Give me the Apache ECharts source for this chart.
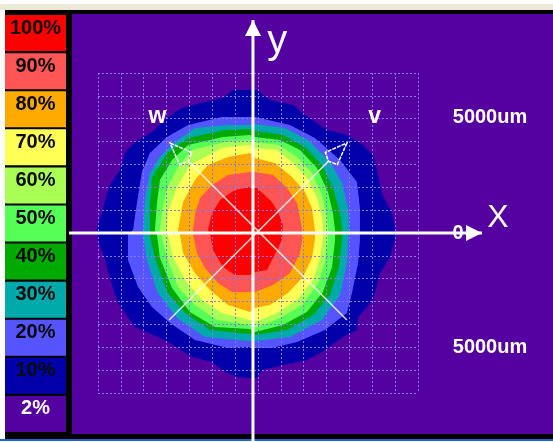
<!DOCTYPE html>
<html>
<head>
<meta charset="utf-8">
<style>
  html, body { margin: 0; padding: 0; background: #ffffff; }
  #chart { width: 553px; height: 442px; }
</style>
<script src="https://cdn.jsdelivr.net/npm/echarts@6/dist/echarts.min.js"></script>
</head>
<body>
<div id="chart"></div>
<script>
// legend scale, top to bottom
const legendLabels = ['100%', '90%', '80%', '70%', '60%', '50%', '40%', '30%', '20%', '10%', '2%'];
const legendColors = ['#ff0000', '#ff5555', '#ffaa00', '#ffff55', '#aaff55', '#55ff55', '#00aa00', '#00aaaa', '#5555ff', '#0000aa', '#5500a0'];

// contour outlines as [x, y] in um
const c100 = [[1090,350],[880,920],[610,1360],[-40,1970],[-350,2010],[-1010,1880],[-1660,1440],[-2010,880],[-2190,130],[-2100,-40],[-1970,-740],[-1530,-1490],[-1010,-1840],[-350,-1840],[-130,-1710],[390,-1620],[660,-1090],[1050,-310]];
const c90 = [[1930,130],[1840,660],[1710,1310],[1270,1970],[660,2540],[-130,2670],[-350,2670],[-1310,2540],[-2010,2100],[-2540,1530],[-2760,790],[-2840,130],[-2840,-90],[-2670,-880],[-2320,-1530],[-1750,-2190],[-1140,-2580],[-350,-2580],[-130,-2580],[660,-2280],[1400,-1750],[1840,-880],[1930,-310]];
const c80 = [[2490,130],[2360,1090],[2060,1790],[1490,2450],[740,3060],[-130,3280],[-350,3500],[-1310,3330],[-2190,2980],[-2760,2320],[-3280,1360],[-3500,130],[-3410,-90],[-3280,-880],[-2760,-1750],[-2100,-2490],[-1310,-3150],[-350,-3460],[-130,-3280],[530,-3150],[1310,-2630],[1970,-1930],[2360,-1090],[2490,-310]];
const c70 = [[2840,130],[2800,660],[2580,1530],[2140,2410],[1530,3060],[830,3630],[-130,3720],[-350,3850],[-1580,3720],[-2980,2980],[-3540,2010],[-3940,920],[-3980,130],[-3940,-90],[-3720,-1050],[-3190,-2060],[-2450,-2930],[-1580,-3500],[-350,-3810],[-130,-3890],[830,-3500],[1710,-2930],[2410,-2060],[2710,-1090],[2840,-310]];
const c60 = [[3060,130],[3020,700],[2800,1660],[2360,2630],[1710,3330],[880,3850],[-130,3980],[-350,4070],[-1440,3980],[-2890,3630],[-3500,2890],[-3980,1970],[-4200,920],[-4290,130],[-4240,-90],[-3980,-1090],[-3500,-2360],[-2760,-3150],[-1790,-3810],[-350,-4030],[-130,-4160],[960,-3720],[1930,-3150],[2630,-2190],[2930,-1270],[3060,-310]];
const c50 = [[3370,130],[3280,880],[3060,1790],[2580,2840],[1840,3630],[960,4070],[-130,4200],[-350,4290],[-1530,4200],[-3060,3850],[-3760,3190],[-4290,2320],[-4420,1310],[-4510,130],[-4420,-90],[-4290,-1090],[-3760,-2410],[-2980,-3460],[-1880,-4110],[-350,-4200],[-130,-4330],[1090,-4030],[2140,-3460],[2840,-2580],[3240,-1490],[3370,-310]];
const c40 = [[3680,130],[3590,880],[3280,1970],[2800,2980],[2060,3760],[1090,4290],[-130,4460],[-350,4550],[-1440,4510],[-3060,4160],[-3980,3500],[-4640,2410],[-4730,1230],[-4730,130],[-4730,-90],[-4510,-1090],[-3980,-2580],[-3190,-3500],[-2100,-4240],[-350,-4420],[-130,-4460],[1270,-4240],[2410,-3590],[3150,-2710],[3540,-1490],[3680,-310]];
const c30 = [[3980,130],[3940,1010],[3680,2190],[3150,3110],[2190,4070],[1180,4590],[-130,4770],[-350,4730],[-1310,4730],[-2760,4590],[-3630,3980],[-4290,3330],[-4730,2630],[-4940,1530],[-5030,130],[-5030,-90],[-4860,-1180],[-4380,-2630],[-3540,-3720],[-2320,-4550],[-350,-4730],[-130,-4730],[1400,-4550],[2800,-3810],[3590,-2710],[3890,-1310],[3940,-310]];
const c20 = [[4460,130],[4460,1090],[4330,2230],[3590,3190],[2490,4160],[1400,4730],[-130,5080],[-350,5080],[-1580,5080],[-3060,4730],[-3980,4200],[-4730,3500],[-5080,2670],[-5290,1360],[-5470,130],[-5690,-90],[-5690,-1180],[-5250,-2360],[-4640,-3240],[-3850,-3940],[-2760,-4680],[-1310,-5030],[-350,-4990],[-130,-5030],[610,-5030],[1710,-4770],[2930,-4240],[3890,-3500],[4110,-2630],[4380,-1310],[4460,-310]];
const c10 = [[5990,220],[5860,920],[5430,1660],[5250,2540],[5030,3410],[4590,3850],[3890,4290],[3020,4510],[2060,5160],[1530,5600],[530,5820],[-40,6260],[-350,6260],[-1090,6260],[-1530,5910],[-2320,5730],[-3330,5470],[-3980,5030],[-4640,4420],[-5380,3980],[-5820,3500],[-6040,2760],[-6480,2100],[-6690,1440],[-6830,880],[-7040,220],[-7000,-310],[-6690,-1180],[-6480,-1970],[-6130,-3060],[-5380,-4110],[-4380,-4550],[-3850,-4810],[-2890,-5430],[-2010,-5640],[-1440,-6080],[-880,-6300],[-350,-6340],[-40,-6340],[180,-5990],[1090,-5780],[2140,-5560],[2800,-5210],[3720,-4550],[4330,-4240],[4380,-3680],[5030,-2930],[5340,-1750],[5780,-1050],[5990,-310]];

// outermost first so the inner levels paint over it
const contours = [c10, c20, c30, c40, c50, c60, c70, c80, c90, c100];
const contourColors = ['#0000aa', '#5555ff', '#00aaaa', '#00aa00', '#55ff55', '#aaff55', '#ffff55', '#ffaa00', '#ff5555', '#ff0000'];

// measurement axes in um: [start, tip]
const xLine = [[-8270, 0], [9800, 0]];
const yLine = [[-220, -9140], [-220, 9320]];
const vLine = [[-3890, -3810], [3890, 3940]];
const wLine = [[3890, -3810], [-3850, 3940]];

const labels = [
  { text: '5000um', pos: [10150, 5060] },
  { text: '0', pos: [8750, 0] },
  { text: '5000um', pos: [10150, -5000] }
];
const smallLetters = [
  { text: 'w', pos: [-4400, 5100] },
  { text: 'v', pos: [5100, 5100] }
];
const bigLabels = [
  { text: 'X', pos: [10500, 660], size: 32 },
  { text: 'y', pos: [840, 8350], size: 40 }
];

const FONT = '"Liberation Sans", sans-serif';

function contourSeries(points, color) {
  return {
    type: 'custom',
    xAxisIndex: 0,
    yAxisIndex: 0,
    coordinateSystem: 'cartesian2d',
    z: 2,
    silent: true,
    data: [[0, 0]],
    renderItem(params, api) {
      return {
        type: 'polygon',
        shape: { points: points.map(p => api.coord(p)) },
        style: { fill: color }
      };
    }
  };
}

// arrow head in pixels, hollow or filled
function headPoints(a, b, len, halfWidth, back) {
  const d = Math.hypot(b[0] - a[0], b[1] - a[1]);
  const ux = (b[0] - a[0]) / d;
  const uy = (b[1] - a[1]) / d;
  const base = [b[0] - ux * len, b[1] - uy * len];
  const pts = [b, [base[0] - uy * halfWidth, base[1] + ux * halfWidth]];
  if (back) pts.push([b[0] - ux * back, b[1] - uy * back]);
  pts.push([base[0] + uy * halfWidth, base[1] - ux * halfWidth]);
  return pts;
}

function textItem(l, font) {
  return {
    type: 'text',
    style: { x: l.p[0], y: l.p[1], text: l.text, fill: '#ffffff', font, align: 'center', verticalAlign: 'middle' }
  };
}

const overlaySeries = {
  type: 'custom',
  xAxisIndex: 0,
  yAxisIndex: 0,
  coordinateSystem: 'cartesian2d',
  z: 8,
  silent: true,
  clip: false,
  data: [[0, 0]],
  renderItem(params, api) {
    const kids = [];
    labels.forEach(l => {
      kids.push(textItem({ text: l.text, p: api.coord(l.pos) }, 'bold 20px ' + FONT));
    });
    smallLetters.forEach(l => {
      kids.push(textItem({ text: l.text, p: api.coord(l.pos) }, 'bold 23px ' + FONT));
    });
    bigLabels.forEach(l => {
      kids.push(textItem({ text: l.text, p: api.coord(l.pos) }, l.size + 'px ' + FONT));
    });
    [vLine, wLine].forEach(line => {
      const a = api.coord(line[0]);
      const b = api.coord(line[1]);
      const head = headPoints(a, b, 22, 8.5, 26);
      kids.push({
        type: 'line',
        shape: { x1: a[0], y1: a[1], x2: head[2][0], y2: head[2][1] },
        style: { stroke: '#ffffff', lineWidth: 1.5, opacity: 0.85 }
      });
      kids.push({
        type: 'polygon',
        shape: { points: head },
        style: { fill: 'none', stroke: '#ffffff', lineWidth: 1.5, lineDash: [4, 1] }
      });
    });
    [xLine, yLine].forEach(line => {
      const a = api.coord(line[0]);
      const b = api.coord(line[1]);
      const head = headPoints(a, b, 16, 8);
      kids.push({
        type: 'line',
        shape: { x1: a[0], y1: a[1], x2: head[0][0], y2: head[0][1] },
        style: { stroke: '#ffffff', lineWidth: 3 }
      });
      kids.push({ type: 'polygon', shape: { points: head }, style: { fill: '#ffffff' } });
    });
    return { type: 'group', children: kids };
  }
};

const legendSeries = {
  type: 'bar',
  xAxisIndex: 1,
  yAxisIndex: 1,
  z: 2,
  silent: true,
  barWidth: 36,
  data: legendLabels.map((name, i) => ({
    value: 1,
    itemStyle: { color: legendColors[i] },
    label: { color: name === '2%' ? '#ffffff' : '#0a0a0a' }
  })),
  label: {
    show: true,
    position: 'inside',
    offset: [0, -5],
    formatter: '{b}',
    fontFamily: FONT,
    fontWeight: 'bold',
    fontSize: 20
  }
};

const chart = echarts.init(document.getElementById('chart'), null, { renderer: 'canvas' });

const gridLine = { show: true, lineStyle: { color: '#8878f8', width: 1, type: [2, 2] } };

chart.setOption({
  animation: false,
  backgroundColor: '#ffffff',
  tooltip: { show: false },
  graphic: [
    { type: 'rect', z: -5, shape: { x: 0, y: 4, width: 553, height: 6 }, style: { fill: '#ece9d8' } },
    { type: 'rect', z: -4, shape: { x: 5, y: 10, width: 548, height: 429 }, style: { fill: '#000000' } },
    { type: 'rect', z: -3, shape: { x: 72, y: 14, width: 481, height: 420 }, style: { fill: '#5500a0' } },
    { type: 'rect', z: -3, shape: { x: 0, y: 439, width: 553, height: 2 }, style: { fill: '#1f62d6' } }
  ],
  grid: [
    { left: 98, top: 73, width: 320, height: 320 },
    { left: 5, top: 14, width: 61, height: 419 }
  ],
  xAxis: [
    {
      gridIndex: 0, type: 'value', min: -7000, max: 7000, interval: 1000, z: 5,
      axisLine: { show: false }, axisTick: { show: false }, axisLabel: { show: false }, splitLine: gridLine
    },
    { gridIndex: 1, type: 'value', min: 0, max: 1, show: false }
  ],
  yAxis: [
    {
      gridIndex: 0, type: 'value', min: -7000, max: 7000, interval: 1000, z: 5,
      axisLine: { show: false }, axisTick: { show: false }, axisLabel: { show: false }, splitLine: gridLine
    },
    { gridIndex: 1, type: 'category', inverse: true, data: legendLabels, show: false }
  ],
  series: [legendSeries]
    .concat(contours.map((c, i) => contourSeries(c, contourColors[i])))
    .concat([overlaySeries])
});
</script>
</body>
</html>
